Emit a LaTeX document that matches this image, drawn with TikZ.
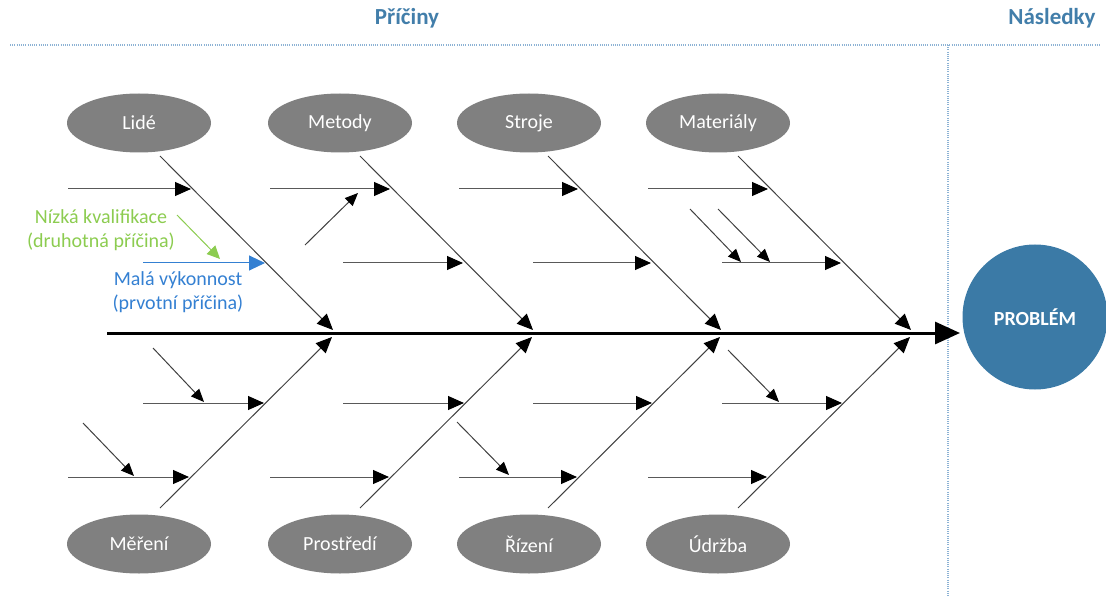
\documentclass[tikz,border=0pt]{standalone}
\usepackage{fontspec}
\setmainfont{Carlito}
\usetikzlibrary{arrows.meta,shapes.geometric}
\definecolor{titleblue}{RGB}{66,126,170}
\definecolor{dotblue}{RGB}{140,178,212}
\definecolor{catgray}{RGB}{128,128,128}
\definecolor{probblue}{RGB}{59,122,166}
\definecolor{anngreen}{RGB}{140,204,80}
\definecolor{annblue}{RGB}{52,128,210}
\begin{document}
\begin{tikzpicture}[x=1pt,y=-1pt,
  cat/.style={ellipse, fill=catgray, minimum width=144pt, minimum height=59pt, inner sep=0pt, text=white, font=\fontsize{20}{22}\selectfont},
  bone/.style={draw=black!75, line width=1pt, -{Triangle[length=16pt,width=14pt,color=black]}},
  sub/.style={draw=black!65, line width=1pt, -{Triangle[length=16pt,width=14pt,color=black]}},
  small/.style={draw=black!75, line width=1pt, -{Triangle[length=13pt,width=11pt,color=black]}},
  ttl/.style={text=titleblue, font=\fontsize{23}{26}\selectfont\bfseries},
  ann/.style={font=\fontsize{20}{24}\selectfont, align=center, inner sep=0pt},
  sep/.style={draw=dotblue, line width=1.3pt, dash pattern=on 1pt off 1.2pt}]
\useasboundingbox (0,0) rectangle (1106,596);

% titles and separators
\node[ttl] (causes) at (407,18) {Příčiny};
\node[ttl] (effects) at (1052,18) {Následky};
\coordinate (hl0) at (10,45); \coordinate (hl1) at (1100,45);
\coordinate (vl0) at (948,45); \coordinate (vl1) at (948,596);
\draw[sep] (hl0) -- (hl1);
\draw[sep] (vl0) -- (vl1);

% problem head
\node[circle, fill=probblue, minimum size=145pt, inner sep=0pt, text=white, font=\fontsize{20}{22}\selectfont\bfseries] (prob) at (1035,317) {PROBLÉM};

% spine
\coordinate (sp0) at (107,333);
\coordinate (sp1) at (960,333);
\draw[line width=3pt, -{Triangle[length=25pt,width=22pt]}] (sp0) -- (sp1);

% category ellipses
\node[cat] (lide) at (139,123) {Lidé};
\node[cat] (metody) at (340,123) {Metody};
\node[cat] (stroje) at (529,123) {Stroje};
\node[cat] (mat) at (718,123) {Materiály};
\node[cat] (mer) at (139,544) {Měření};
\node[cat] (pro) at (340,544) {Prostředí};
\node[cat] (riz) at (529,544) {Řízení};
\node[cat] (udr) at (718,544) {Údržba};

% top main bones
\foreach \n/\xs in {L/160,M/360,S/548,T/738}{
  \coordinate (\n0) at (\xs,156);
  \coordinate (\n1) at ({\xs+173},330);
  \draw[bone] (\n0) -- (\n1);
}
% bottom main bones
\foreach \n/\xs in {E/160,P/360,R/548,U/738}{
  \coordinate (\n0) at (\xs,508);
  \coordinate (\n1) at ({\xs+172},337);
  \draw[bone] (\n0) -- (\n1);
}

% top sub-bones, row 1 (y=189)
\foreach \n/\a/\b in {L/68/191,M/270/390,S/459/578,T/648/768}{
  \coordinate (\n a0) at (\a,189); \coordinate (\n a1) at (\b,189);
  \draw[sub] (\n a0) -- (\n a1);
}
% top sub-bones, row 2 (y=263)
\foreach \n/\a/\b in {M/343/463,S/533/651,T/722/841}{
  \coordinate (\n b0) at (\a,263); \coordinate (\n b1) at (\b,263);
  \draw[sub] (\n b0) -- (\n b1);
}
% bottom sub-bones, row 1 (y=403)
\foreach \n/\a/\b in {E/143/264,P/343/464,R/533/652,U/722/842}{
  \coordinate (\n a0) at (\a,403); \coordinate (\n a1) at (\b,403);
  \draw[sub] (\n a0) -- (\n a1);
}
% bottom sub-bones, row 2 (y=477)
\foreach \n/\a/\b in {E/68/189,P/270/389,R/459/577,U/648/767}{
  \coordinate (\n b0) at (\a,477); \coordinate (\n b1) at (\b,477);
  \draw[sub] (\n b0) -- (\n b1);
}

% secondary (oblique) causes
\foreach \n/\xa/\ya/\xb/\yb in {m1/305/245/358/193, t1/690/209/741/262, t2/718/209/770/262,
  e1/153/348/204/402, e2/83/423/134/476, r1/457/422/509/475, u1/728/350/779/402}{
  \coordinate (\n s) at (\xa,\ya); \coordinate (\n e) at (\xb,\yb);
  \draw[small] (\n s) -- (\n e);
}

% annotated example (Lidé)
\coordinate (gA) at (177,215); \coordinate (gB) at (220,259);
\draw[draw=anngreen, line width=1pt, -{Triangle[length=13pt,width=12pt]}] (gA) -- (gB);
\coordinate (bA) at (143,263); \coordinate (bB) at (265,263);
\draw[draw=annblue, line width=1pt, -{Triangle[length=16pt,width=15pt]}] (bA) -- (bB);
\node[ann, text=anngreen] (nk) at (101,230) {Nízká kvalifikace\\(druhotná příčina)};
\node[ann, text=annblue] (mv) at (178,292) {Malá výkonnost\\(prvotní příčina)};
\end{tikzpicture}
\end{document}
